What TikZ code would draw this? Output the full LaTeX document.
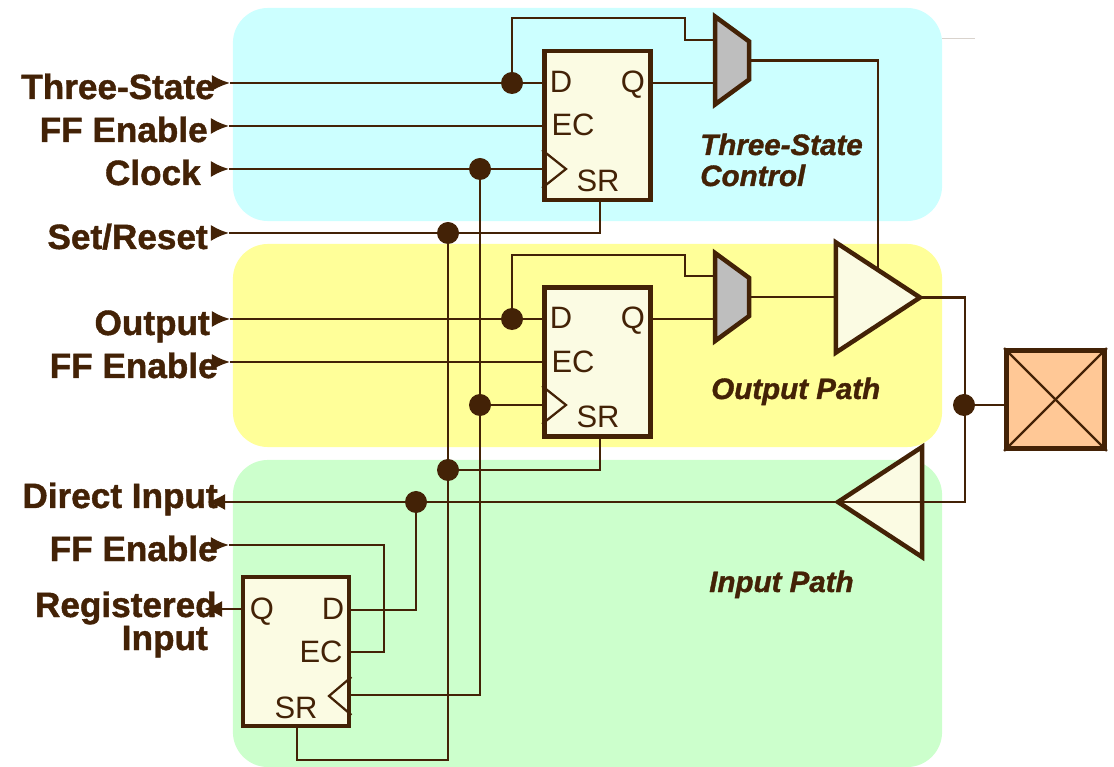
\documentclass[tikz,border=0pt]{standalone}
\usepackage{fontspec}
\setmainfont{Liberation Sans}
\newfontfamily\sidefont[FakeBold=1.2]{Liberation Sans}
\usepackage{tikz}
\usetikzlibrary{arrows.meta,shapes.geometric,positioning,calc}
\definecolor{wirebrown}{HTML}{432206}
\definecolor{bodycream}{HTML}{FBFBE3}
\definecolor{muxgray}{HTML}{BEBEBE}
\definecolor{padorange}{HTML}{FFC896}
\definecolor{ctrlcyan}{HTML}{CCFFFF}
\definecolor{outyellow}{HTML}{FFFF99}
\definecolor{ingreen}{HTML}{CCFFCC}
\tikzset{
    zone/.style={rectangle, rounded corners=0.875cm, minimum width=17.725cm, inner sep=0},
    wire/.style={draw=wirebrown, line width=1.7pt},
    pinarrow/.style={wire, -{Latex[length=0.45cm, width=0.4cm]}},
    flop/.style={rectangle, draw=wirebrown, fill=bodycream, line width=3.4pt, minimum width=2.65cm, minimum height=3.72cm, inner sep=0},
    clk/.style={draw=wirebrown, line width=1.6pt},
    pinlabel/.style={text=wirebrown, anchor=base, font=\fontsize{22}{24}\selectfont, inner sep=0},
    sidelabel/.style={text=wirebrown, anchor=base east, font=\fontsize{25}{27}\selectfont\sidefont\bfseries, inner sep=0},
    pathlabel/.style={text=wirebrown, anchor=base west, align=left, font=\fontsize{21}{22}\selectfont\sidefont\bfseries\itshape, inner sep=0},
    dot/.style={circle, fill=wirebrown, minimum size=0.55cm, inner sep=0},
    mux/.style={trapezium, trapezium stretches=true, trapezium left angle=57, trapezium right angle=57, rotate=-90, draw=wirebrown, fill=muxgray, line width=3.2pt, minimum width=2.2cm, minimum height=0.85cm, inner sep=1pt},
    buffer/.style={isosceles triangle, isosceles triangle stretches=true, draw=wirebrown, fill=bodycream, line width=3.2pt, minimum width=2.75cm, minimum height=2.1cm, inner sep=1pt, outer sep=0}
}
\begin{document}
\begin{tikzpicture}[x=0.025cm, y=-0.025cm]
    \useasboundingbox (0,0) rectangle (1114,767);
    % shaded regions
    \node[zone, fill=ctrlcyan, minimum height=5.325cm] (ctrlzone) at (587.5,114.5) {};
    \node[zone, fill=ingreen, minimum height=7.675cm] (inzone) at (587.5,613.5) {};
    \node[zone, fill=outyellow, minimum height=5.075cm] (outzone) at (587.5,345.5) {};
    \draw[draw=wirebrown!20, line width=0.6pt] (ctrlzone.east |- 0,38) -- (975,38);

    % flip-flops, muxes, buffers, pad
    \node[flop] (ffa) at (597.5,125.5) {};
    \node[flop] (ffb) at (597.5,362) {};
    \node[flop] (ffc) at (296,651.5) {};
    \node[mux] (muxa) at (732,60.5) {};
    \node[mux] (muxb) at (732,297) {};
    \node[buffer, anchor=apex] (outbuf) at (920,297.5) {};
    \node[buffer, anchor=apex, shape border rotate=180] (inbuf) at (838,502) {};
    \node[rectangle, draw=wirebrown, fill=padorange, line width=3.4pt, minimum width=2.45cm, minimum height=2.45cm, inner sep=0] (pad) at (1055.5,399.5) {};
    \draw[clk] (pad.north west) -- (pad.south east);
    \draw[clk] (pad.north east) -- (pad.south west);

    % clock marks
    \draw[clk] (ffa.west |- 0,150) -- (566,169) -- (ffa.west |- 0,188);
    \draw[clk] (ffb.west |- 0,386) -- (566,405) -- (ffb.west |- 0,424);
    \draw[clk] (ffc.east |- 0,677) -- (329,696) -- (ffc.east |- 0,715);

    % pin names
    \node[pinlabel] (ffad) at (561,93) {D};
    \node[pinlabel] (ffaq) at (633,93) {Q};
    \node[pinlabel] (ffae) at (573,136) {EC};
    \node[pinlabel] (ffas) at (598,192) {SR};
    \node[pinlabel] (ffbd) at (561,329) {D};
    \node[pinlabel] (ffbq) at (633,329) {Q};
    \node[pinlabel] (ffbe) at (573,373) {EC};
    \node[pinlabel] (ffbs) at (598,428) {SR};
    \node[pinlabel] (ffcq) at (262,619) {Q};
    \node[pinlabel] (ffcd) at (333,619) {D};
    \node[pinlabel] (ffce) at (321,662) {EC};
    \node[pinlabel] (ffcs) at (296,718) {SR};

    % junctions
    \node[dot] (dotts) at (512,83) {};
    \node[dot] (dotclk) at (480,169) {};
    \node[dot] (dotsr) at (448,233) {};
    \node[dot] (dotout) at (512,319) {};
    \node[dot] (dotclkb) at (480,405) {};
    \node[dot] (dotsrb) at (448,470) {};
    \node[dot] (dotdi) at (416,502) {};
    \node[dot] (dotpad) at (964,405) {};

    % wire ends at the left
    \coordinate (ints) at (230,83);
    \coordinate (inen) at (229,126);
    \coordinate (inclk) at (229,169);
    \coordinate (insr) at (229,233);
    \coordinate (inout) at (230,319);
    \coordinate (inenb) at (230,362);
    \coordinate (inenc) at (229,545);
    \coordinate (outdi) at (207,502);
    \coordinate (outreg) at (204,609);
    \foreach \pin in {ints,inen,inclk,insr,inout,inenb,inenc}
        \draw[pinarrow] ($(\pin)+(-18,0)$) -- (\pin);

    % three-state flip-flop
    \draw[wire] (ints) -- (ffa.west |- ints);
    \draw[wire] (inen) -- (ffa.west |- inen);
    \draw[wire] (inclk) -- (ffa.west |- inclk);
    \draw[wire] (insr) -- (600,233) -- (600,202);
    \draw[wire] (dotts.center) -- (512,18) -- (685,18) -- (685,40) -- (716,40);
    \draw[wire] (ffa.east |- ints) -- (716,83);
    \draw[wire] (muxa.north) -| (outbuf.left side);

    % output flip-flop
    \draw[wire] (inout) -- (ffb.west |- inout);
    \draw[wire] (inenb) -- (ffb.west |- inenb);
    \draw[wire] (dotclkb.center) -- (ffb.west |- dotclkb);
    \draw[wire] (dotsrb.center) -- (600,470) -- (600,438);
    \draw[wire] (dotout.center) -- (512,255) -- (685,255) -- (685,276) -- (716,276);
    \draw[wire] (ffb.east |- inout) -- (716,319);
    \draw[wire] (muxb.north) -- (outbuf.west |- muxb.north);

    % pad side
    \draw[wire] (outbuf.apex) -- (965,297.5) -- (965,502) -- (inbuf.west |- inbuf.apex);
    \draw[wire] (dotpad.center) -- (pad.west |- dotpad);

    % input flip-flop
    \draw[pinarrow] (inbuf.apex) -- (outdi);
    \draw[wire] (dotdi.center) -- (416,610) -- (ffc.east |- 0,610);
    \draw[wire] (inenc) -- (384,545) -- (384,652) -- (ffc.east |- 0,652);
    \draw[pinarrow] (ffc.west |- outreg) -- (outreg);
    \draw[wire] (dotclk.center) -- (480,695) -- (ffc.east |- 0,695);
    \draw[wire] (dotsr.center) -- (448,760) -- (297,760) -- (297,727);

    % texts
    \node[sidelabel] (lblts) at (215,99) {Three-State};
    \node[sidelabel] (lblen) at (208,142) {FF Enable};
    \node[sidelabel] (lblclk) at (201,185) {Clock};
    \node[sidelabel] (lblsr) at (208,249) {Set/Reset};
    \node[sidelabel] (lblout) at (210,335) {Output};
    \node[sidelabel] (lblenb) at (218,378) {FF Enable};
    \node[sidelabel] (lbldi) at (218,508) {Direct Input};
    \node[sidelabel] (lblenc) at (218,561) {FF Enable};
    \node[sidelabel] (lblreg) at (217,617) {Registered};
    \node[sidelabel] (lblinp) at (208,650) {Input};
    \node[pathlabel] (lblctrl) at (700,155) {Three-State};
    \node[pathlabel] (lblctrlb) at (700,186) {Control};
    \node[pathlabel] (lblopath) at (711,399) {Output Path};
    \node[pathlabel] (lblipath) at (709,592) {Input Path};
\end{tikzpicture}
\end{document}
